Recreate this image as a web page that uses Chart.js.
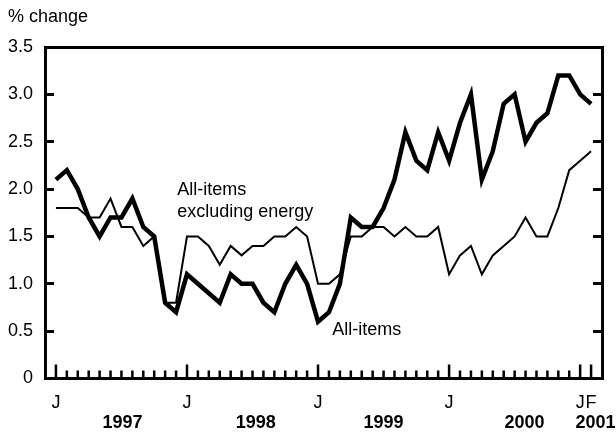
<!DOCTYPE html>
<html>
<head>
<meta charset="utf-8">
<script src="https://cdn.jsdelivr.net/npm/chart.js@4.4.1/dist/chart.umd.min.js"></script>
<style>
  html, body { margin: 0; padding: 0; background: #fff; }
  #wrap { width: 616px; height: 433px; position: relative; }
</style>
</head>
<body>
<div id="wrap"><canvas id="cpiChart" width="616" height="433"></canvas></div>
<script>
// Year-over-year % change, monthly, Jan 1997 - Feb 2001
const years = ['1997', '1998', '1999', '2000', '2001'];
const monthLetters = ['J', 'F', 'M', 'A', 'M', 'J', 'J', 'A', 'S', 'O', 'N', 'D'];

const allItems = [
  2.1, 2.2, 2.0, 1.7, 1.5, 1.7, 1.7, 1.9, 1.6, 1.5, 0.8, 0.7,
  1.1, 1.0, 0.9, 0.8, 1.1, 1.0, 1.0, 0.8, 0.7, 1.0, 1.2, 1.0,
  0.6, 0.7, 1.0, 1.7, 1.6, 1.6, 1.8, 2.1, 2.6, 2.3, 2.2, 2.6,
  2.3, 2.7, 3.0, 2.1, 2.4, 2.9, 3.0, 2.5, 2.7, 2.8, 3.2, 3.2,
  3.0, 2.9
];
const exEnergy = [
  1.8, 1.8, 1.8, 1.7, 1.7, 1.9, 1.6, 1.6, 1.4, 1.5, 0.8, 0.8,
  1.5, 1.5, 1.4, 1.2, 1.4, 1.3, 1.4, 1.4, 1.5, 1.5, 1.6, 1.5,
  1.0, 1.0, 1.1, 1.5, 1.5, 1.6, 1.6, 1.5, 1.6, 1.5, 1.5, 1.6,
  1.1, 1.3, 1.4, 1.1, 1.3, 1.4, 1.5, 1.7, 1.5, 1.5, 1.8, 2.2,
  2.3, 2.4
];

const FONT = "'Liberation Sans', Arial, sans-serif";

// month labels built from the years list
const months = [];
years.forEach(y => monthLetters.forEach(m => months.push(m + ' ' + y)));
months.length = allItems.length;

// letter under a month tick: J for each January, plus the last month
function tickLetter(i) {
  if (i < 0 || i >= months.length) return '';
  if (i % 12 === 0 || i === months.length - 1) return months[i].charAt(0);
  return '';
}

const frameBorder = { display: true, width: 3, color: '#000' };

const labelsPlugin = {
  id: 'labels',
  afterDraw(chart) {
    const ctx = chart.ctx;
    const xs = chart.scales.x;
    const ys = chart.scales.y;
    const a = chart.chartArea;
    ctx.save();
    ctx.fillStyle = '#000';

    // month ticks, taller at January
    months.forEach((m, i) => {
      const px = xs.getPixelForValue(i);
      const h = tickLetter(i) !== '' ? 14 : 8;
      ctx.fillRect(px - 1.25, a.bottom - h, 2.5, h);
    });

    // axis title
    ctx.font = '18px ' + FONT;
    ctx.textAlign = 'left';
    ctx.textBaseline = 'alphabetic';
    ctx.fillText('% change', 8, 22);

    // series labels
    ctx.fillText('All-items', xs.getPixelForValue(11.1), ys.getPixelForValue(1.94));
    ctx.fillText('excluding energy', xs.getPixelForValue(11.1), ys.getPixelForValue(1.71));
    ctx.fillText('All-items', xs.getPixelForValue(25.3), ys.getPixelForValue(0.46));

    // year labels
    ctx.font = 'bold 18px ' + FONT;
    ctx.textAlign = 'center';
    const yearAt = [6.1, 18.3, 30.0, 42.9, 49.4];
    years.forEach((y, k) => {
      ctx.fillText(y, xs.getPixelForValue(yearAt[k]), 428);
    });

    ctx.restore();
  }
};

new Chart(document.getElementById('cpiChart'), {
  type: 'line',
  data: {
    datasets: [
      {
        label: 'All-items',
        data: allItems.map((v, i) => ({ x: i, y: v })),
        borderColor: '#000',
        borderWidth: 4.5,
        pointRadius: 0,
        tension: 0
      },
      {
        label: 'All-items excluding energy',
        data: exEnergy.map((v, i) => ({ x: i, y: v })),
        borderColor: '#000',
        borderWidth: 2,
        pointRadius: 0,
        tension: 0
      }
    ]
  },
  options: {
    responsive: false,
    animation: false,
    layout: { padding: { top: 47, right: 10, left: 0, bottom: 0 } },
    plugins: { legend: { display: false }, tooltip: { enabled: false } },
    scales: {
      x: {
        type: 'linear', min: -1, max: 50,
        grid: { display: false, drawTicks: false },
        border: frameBorder,
        afterFit: function(s) { s.height = 54.5; },
        ticks: {
          stepSize: 1, autoSkip: false, maxRotation: 0, minRotation: 0,
          padding: 14, color: '#000',
          font: { family: FONT, size: 18 },
          callback: function(v) { return tickLetter(v); }
        }
      },
      xTop: {
        type: 'linear', position: 'top', min: -1, max: 50,
        grid: { display: false, drawTicks: false },
        border: frameBorder,
        ticks: { display: false },
        afterFit: function(s) { s.height = 0; }
      },
      y: {
        min: 0, max: 3.5,
        grid: { display: true, drawOnChartArea: false, drawTicks: true, tickLength: -9, color: '#000', lineWidth: 3 },
        border: frameBorder,
        afterFit: function(s) { s.width = 45; },
        ticks: {
          stepSize: 0.5, padding: 21, color: '#000',
          font: { family: FONT, size: 18 },
          callback: function(v) { return v === 0 ? '0' : v.toFixed(1); }
        }
      },
      yRight: {
        position: 'right', min: 0, max: 3.5,
        grid: { display: true, drawOnChartArea: false, drawTicks: true, tickLength: -9, color: '#000', lineWidth: 3 },
        border: frameBorder,
        afterFit: function(s) { s.width = 0; },
        ticks: { stepSize: 0.5, display: false }
      }
    }
  },
  plugins: [labelsPlugin]
});
</script>
</body>
</html>
